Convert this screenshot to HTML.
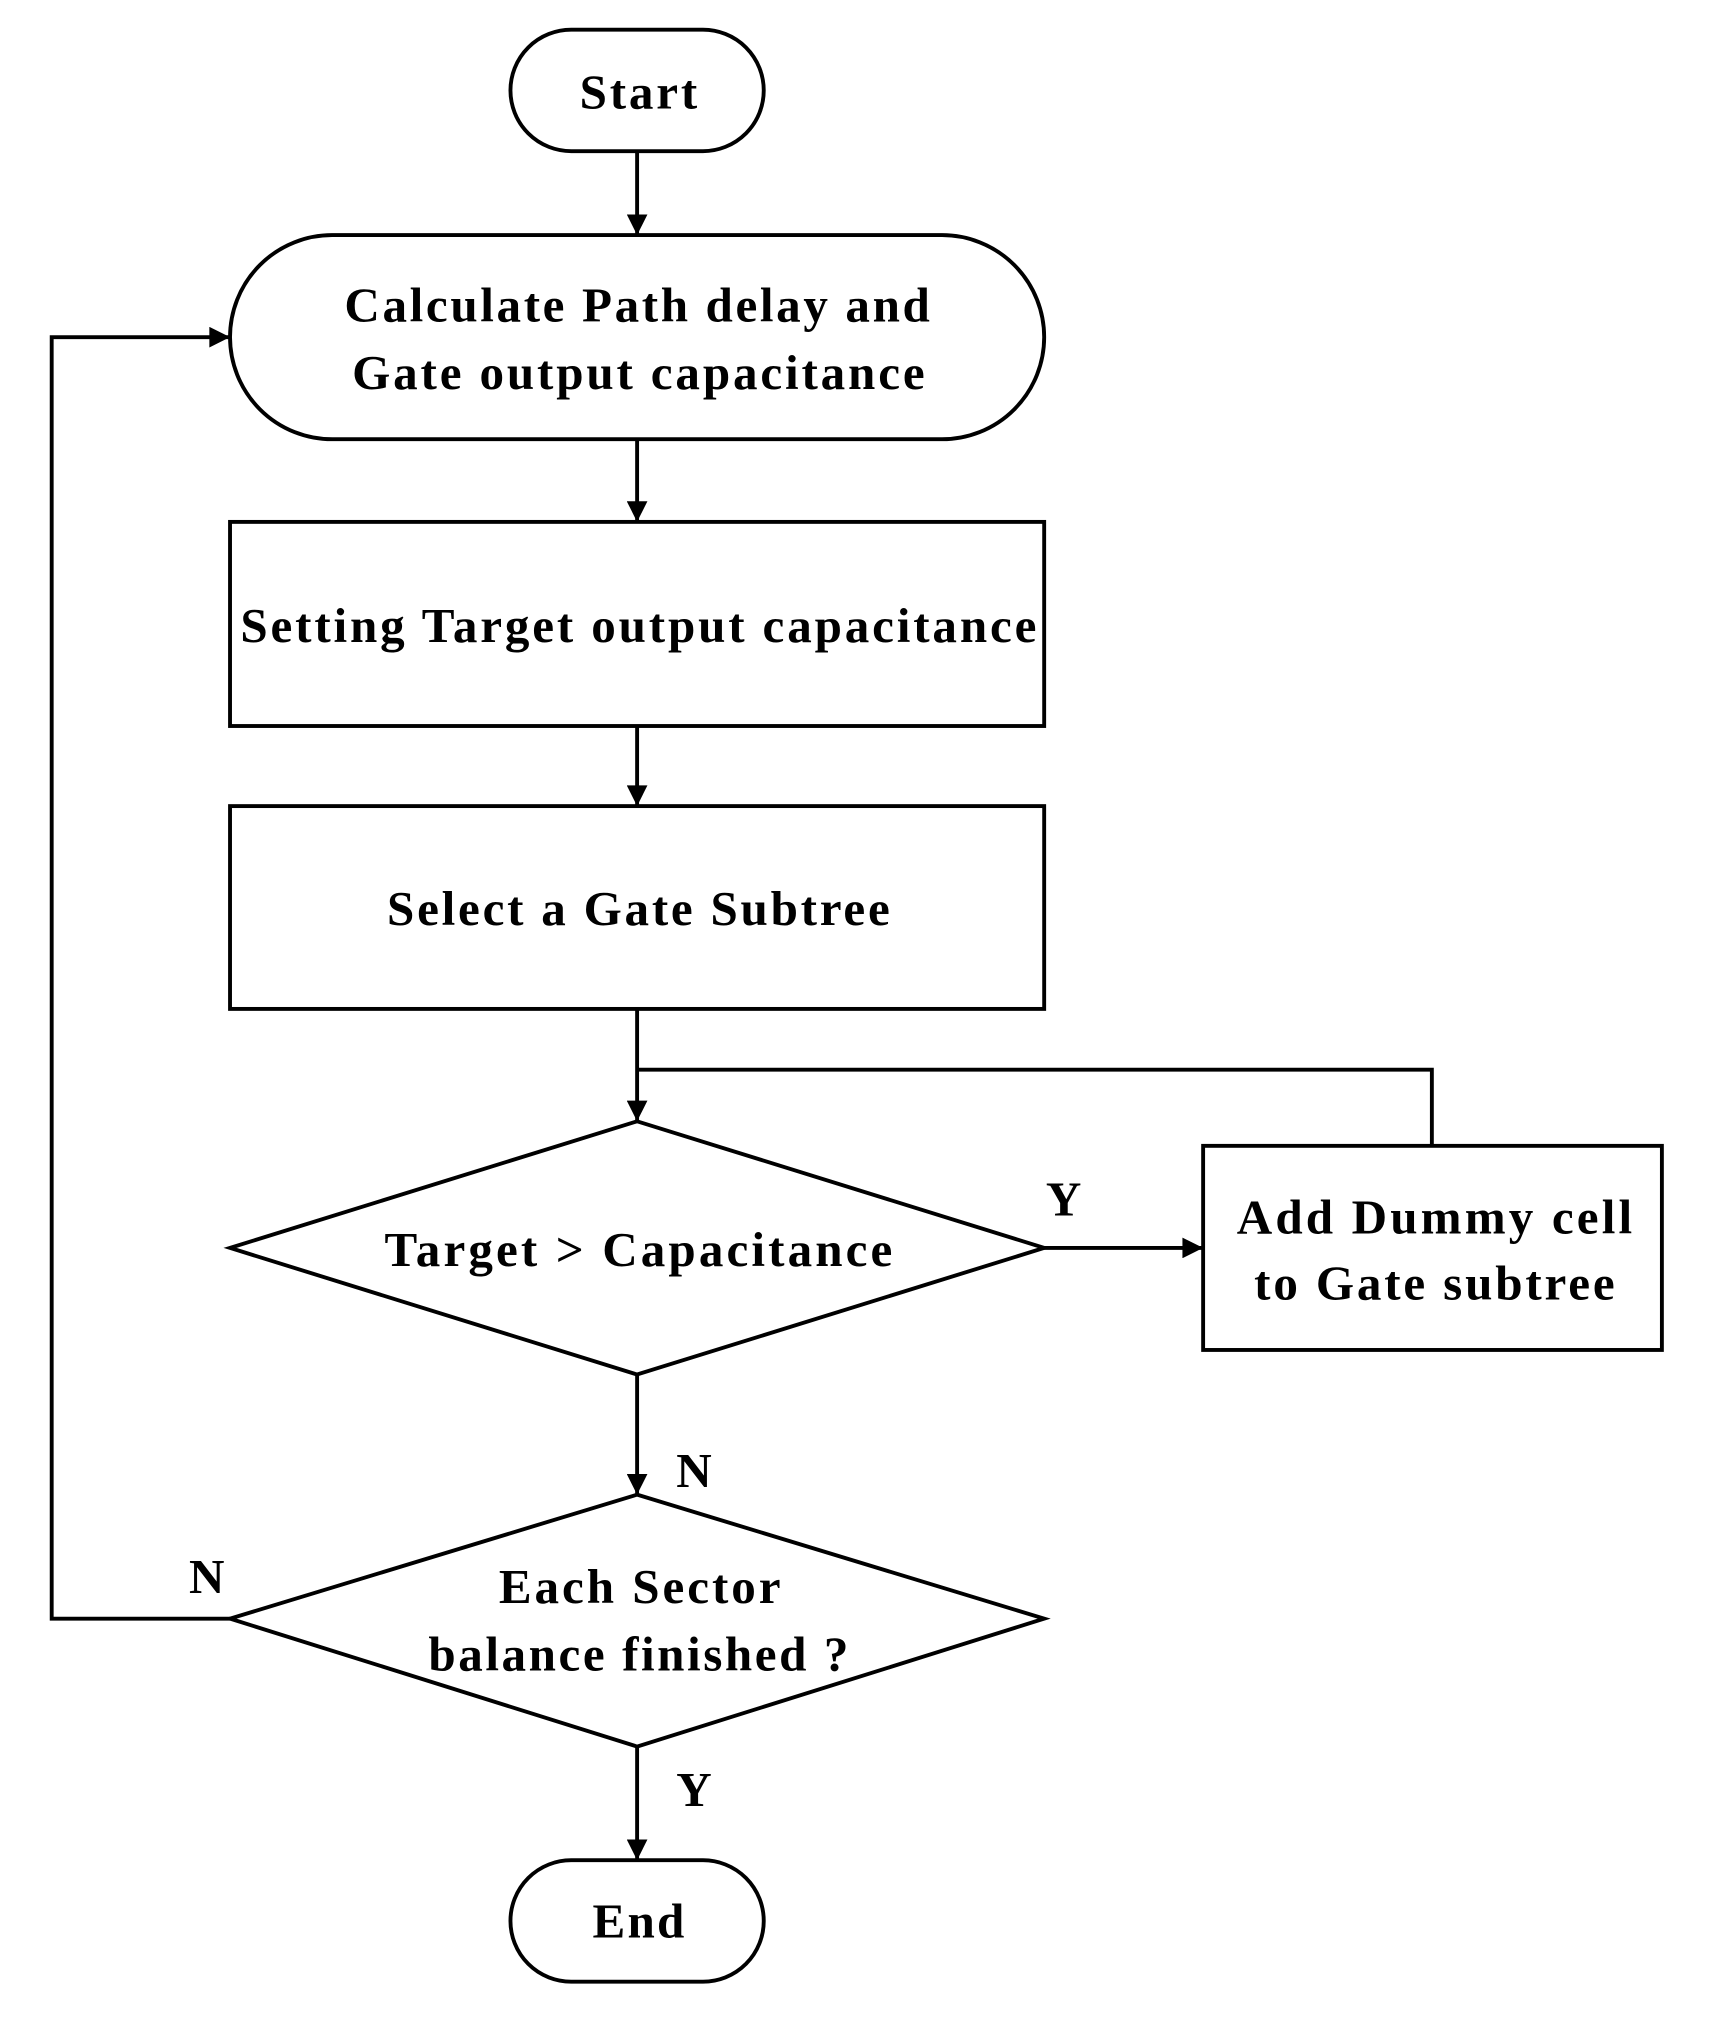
<!DOCTYPE html>
<html><head><style>html,body{margin:0;padding:0;background:#fff}svg{display:block}</style></head>
<body>
<svg width="1711" height="2023" viewBox="0 0 1324 1566" preserveAspectRatio="none" xmlns="http://www.w3.org/2000/svg">
<defs>
<marker id="b" viewBox="0 0 10 10" markerWidth="20" markerHeight="16" refX="10" refY="5" orient="auto" markerUnits="userSpaceOnUse"><path d="M0,0 L10,5 L0,10 z" fill="#000"/></marker></defs>
<g fill="none" stroke="#000" stroke-width="3">
<rect x="395" y="23" width="196" height="94" rx="47"/>
<rect x="178" y="182" width="630" height="158" rx="79"/>
<rect x="178" y="404" width="630" height="158"/>
<rect x="178" y="624" width="630" height="157"/>
<polygon points="493,868 808,966 493,1064 178,966"/>
<rect x="931" y="887" width="355" height="158"/>
<polygon points="493,1157 808,1253 493,1352 178,1253"/>
<rect x="395" y="1440" width="196" height="94" rx="47"/>
<line x1="493" y1="117" x2="493" y2="182" marker-end="url(#b)"/>
<line x1="493" y1="340" x2="493" y2="404" marker-end="url(#b)"/>
<line x1="493" y1="562" x2="493" y2="624" marker-end="url(#b)"/>
<line x1="493" y1="781" x2="493" y2="868" marker-end="url(#b)"/>
<polyline points="493,828 1108,828 1108,887"/>
<line x1="808" y1="966" x2="931" y2="966" marker-end="url(#b)"/>
<line x1="493" y1="1064" x2="493" y2="1157" marker-end="url(#b)"/>
<polyline points="178,1253 40,1253 40,261 178,261" marker-end="url(#b)"/>
<line x1="493" y1="1352" x2="493" y2="1440" marker-end="url(#b)"/>
</g>
<g font-family="Liberation Serif, serif" font-weight="bold" font-size="38" text-anchor="middle" fill="#000" lengthAdjust="spacing">
<text x="494" y="84" textLength="91" lengthAdjust="spacing">Start</text>
<text x="493" y="249" textLength="453" lengthAdjust="spacing">Calculate Path delay and</text>
<text x="494" y="301" textLength="443" lengthAdjust="spacing">Gate output capacitance</text>
<text x="494" y="497" textLength="616" lengthAdjust="spacing">Setting Target output capacitance</text>
<text x="494" y="716" textLength="389" lengthAdjust="spacing">Select a Gate Subtree</text>
<text x="494" y="980" textLength="393" lengthAdjust="spacing">Target &gt; Capacitance</text>
<text x="1110" y="955" textLength="306" lengthAdjust="spacing">Add Dummy cell</text>
<text x="1110" y="1006" textLength="279" lengthAdjust="spacing">to Gate subtree</text>
<text x="495" y="1241" textLength="218" lengthAdjust="spacing">Each Sector</text>
<text x="494" y="1293" textLength="325" lengthAdjust="spacing">balance finished ?</text>
<text x="494" y="1500" textLength="71" lengthAdjust="spacing">End</text>
<text x="823" y="941">Y</text>
<text x="537" y="1151">N</text>
<text x="160" y="1233">N</text>
<text x="537" y="1398">Y</text>
</g>
</svg>
</body></html>
